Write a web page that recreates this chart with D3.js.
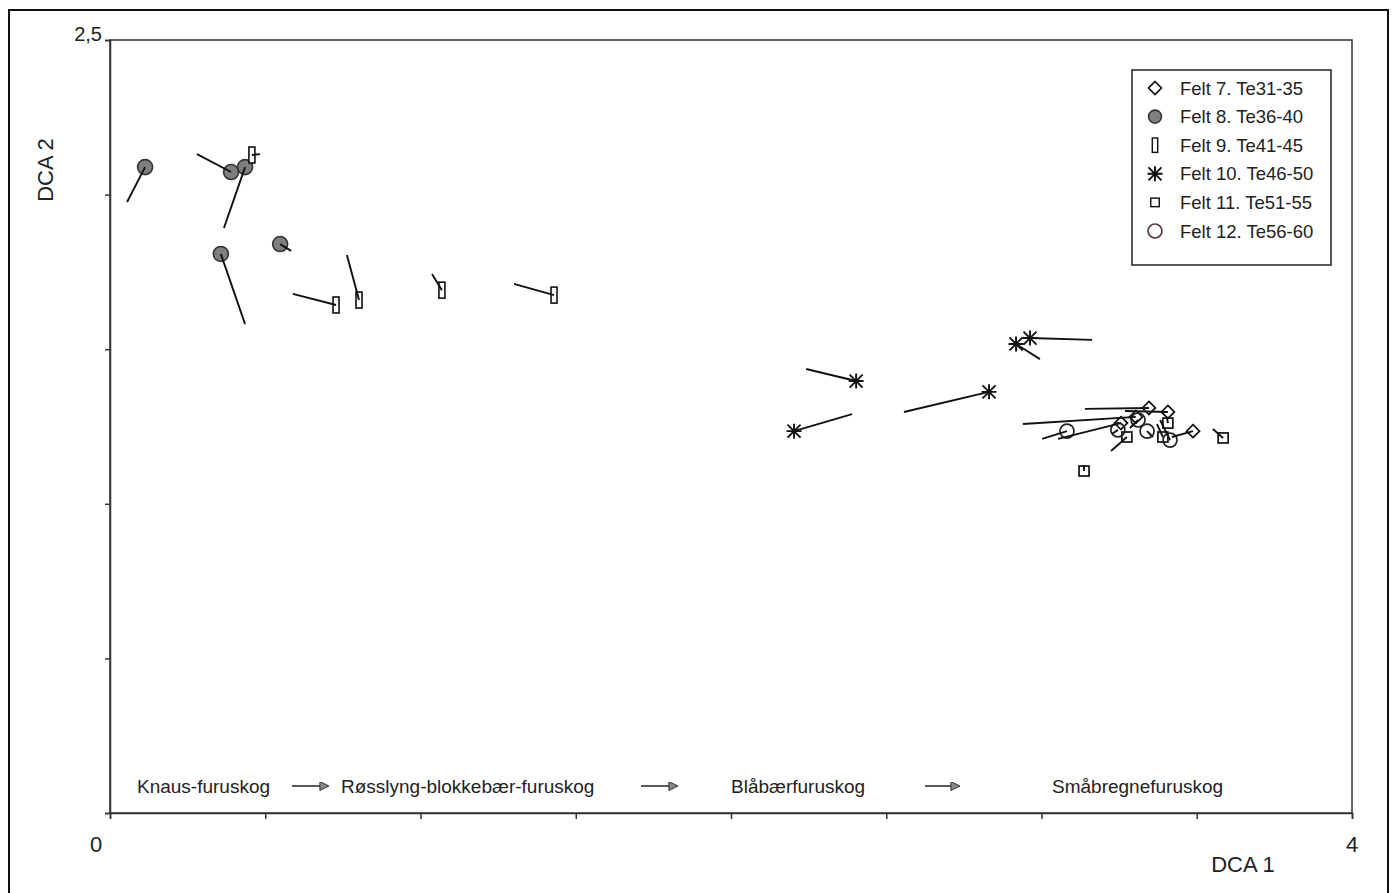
<!DOCTYPE html>
<html>
<head>
<meta charset="utf-8">
<script src="https://cdn.jsdelivr.net/npm/d3@7"></script>
<style>
body { margin: 0; background: #fff; }
text { font-family: "Liberation Sans", Arial, sans-serif; fill: #222; }
</style>
</head>
<body>
<div id="chart"></div>
<script>
// each row: [x, y, fromX, fromY] -- marker position and tail of its line
var felt7 = [[3.346,1.310, 3.140,1.307],[3.407,1.297, 3.269,1.300],[3.304,1.281, 2.940,1.258],[3.256,1.261, 3.053,1.210],[3.488,1.235, 3.420,1.216]];
var felt8 = [[0.113,2.089, 0.055,1.976],[0.390,2.073, 0.280,2.131],[0.435,2.089, 0.367,1.892],[0.548,1.840, 0.583,1.818],[0.357,1.808, 0.435,1.581]];
var felt9 = [[0.457,2.128, 0.483,2.131],[0.728,1.643, 0.589,1.679],[0.802,1.659, 0.763,1.805],[1.069,1.691, 1.037,1.743],[1.430,1.675, 1.301,1.711]];
var felt10 = [[2.203,1.235, 2.390,1.290],[2.403,1.397, 2.242,1.436],[2.831,1.362, 2.557,1.297],[2.918,1.517, 2.995,1.468],[2.963,1.536, 3.163,1.530]];
var felt11 = [[3.137,1.106, 3.137,1.125],[3.407,1.261, 3.404,1.281],[3.275,1.216, 3.224,1.171],[3.391,1.216, 3.372,1.258],[3.585,1.213, 3.552,1.242]];
var felt12 = [[3.082,1.235, 3.002,1.210],[3.246,1.239, 3.227,1.226],[3.311,1.271, 3.285,1.245],[3.340,1.235, 3.359,1.216],[3.414,1.206, 3.382,1.271]];

var seriesNames = ["Felt 7. Te31-35","Felt 8. Te36-40","Felt 9. Te41-45","Felt 10. Te46-50","Felt 11. Te51-55","Felt 12. Te56-60"];
var seriesData = [felt7, felt8, felt9, felt10, felt11, felt12];
var seriesShape = ["diamond","dot","bar","star","square","circle"];

var zones = ["Knaus-furuskog","Røsslyng-blokkebær-furuskog","Blåbærfuruskog","Småbregnefuruskog"];
var xTicks = [0,0.5,1,1.5,2,2.5,3,3.5,4];
var yTicks = [0,0.5,1,1.5,2,2.5];

var W = 1396, H = 893;
var margin = {top: 40, right: 44, bottom: 80, left: 110};
var width = W - margin.left - margin.right,
    height = 813 - margin.top;

var svg = d3.select("#chart").append("svg")
    .attr("width", W).attr("height", H);

// outer frame
svg.append("rect")
    .attr("x", 9).attr("y", 10).attr("width", 1379).attr("height", 900)
    .attr("fill", "none").attr("stroke", "#111").attr("stroke-width", 2);

var g = svg.append("g")
    .attr("transform", "translate(" + margin.left + "," + margin.top + ")");

var x = d3.scaleLinear().domain([0, 4]).range([0, width]);
var y = d3.scaleLinear().domain([0, 2.5]).range([height, 0]);

// plot area border
g.append("rect")
    .attr("width", width).attr("height", height)
    .attr("fill", "none").attr("stroke", "#333").attr("stroke-width", 1.5);

var xAxis = g.append("g")
    .attr("transform", "translate(0," + height + ")")
    .call(d3.axisBottom(x).tickValues(xTicks).tickSize(6).tickFormat(""));
var yAxis = g.append("g")
    .call(d3.axisLeft(y).tickValues(yTicks).tickSize(5).tickFormat(""));
[xAxis, yAxis].forEach(function(a){
    a.select(".domain").attr("stroke", "#333").attr("stroke-width", 1.5);
    a.selectAll(".tick line").attr("stroke", "#333").attr("stroke-width", 1.5);
});

// axis labels
g.append("text").attr("x", -8).attr("y", y(2.5) + 1)
    .attr("text-anchor", "end").style("font-size", "20px").text("2,5");
g.append("text").attr("x", x(0) - 14).attr("y", height + 39)
    .attr("text-anchor", "middle").style("font-size", "22px").text("0");
g.append("text").attr("x", x(4)).attr("y", height + 39)
    .attr("text-anchor", "middle").style("font-size", "22px").text("4");
g.append("text").attr("x", x(4) - 109).attr("y", height + 59)
    .attr("text-anchor", "middle").style("font-size", "22px").text("DCA 1");
svg.append("text")
    .attr("transform", "translate(53,170) rotate(-90)")
    .attr("text-anchor", "middle").style("font-size", "22px").text("DCA 2");

// marker symbols
function drawMarker(sel, shape) {
    if (shape === "diamond") {
        sel.append("path").attr("d", "M0,-6.5L6.5,0L0,6.5L-6.5,0Z")
            .attr("fill", "#fff").attr("stroke", "#111").attr("stroke-width", 1.7);
    } else if (shape === "dot") {
        sel.append("circle").attr("r", 7.5)
            .attr("fill", "#7f7f7f").attr("stroke", "#333").attr("stroke-width", 1.6);
    } else if (shape === "bar") {
        sel.append("rect").attr("x", -3).attr("y", -8).attr("width", 6).attr("height", 16)
            .attr("fill", "#fff").attr("stroke", "#111").attr("stroke-width", 1.6);
    } else if (shape === "star") {
        sel.append("path").attr("d", "M0,-7.5V7.5M-6.5,-6.5L6.5,6.5M-6.5,6.5L6.5,-6.5M-7.5,0H7.5")
            .attr("fill", "none").attr("stroke", "#111").attr("stroke-width", 1.9);
    } else if (shape === "square") {
        sel.append("rect").attr("x", -5).attr("y", -5).attr("width", 10).attr("height", 10)
            .attr("fill", "#fff").attr("stroke", "#111").attr("stroke-width", 1.7);
    } else if (shape === "circle") {
        sel.append("circle").attr("r", 7)
            .attr("fill", "none").attr("stroke", "#222").attr("stroke-width", 1.7);
    }
}

var plot = g.append("g");
seriesData.forEach(function(data, i){
    plot.selectAll("g.m" + i).data(data).enter().append("g")
        .attr("class", "m" + i)
        .attr("transform", function(d){ return "translate(" + x(d[0]) + "," + y(d[1]) + ")"; })
        .each(function(){ drawMarker(d3.select(this), seriesShape[i]); });
});
// movement lines drawn on top
seriesData.forEach(function(data, i){
    plot.selectAll("line.l" + i).data(data).enter().append("line")
        .attr("class", "l" + i)
        .attr("x1", function(d){ return x(d[2]); })
        .attr("y1", function(d){ return y(d[3]); })
        .attr("x2", function(d){ return x(d[0]); })
        .attr("y2", function(d){ return y(d[1]); })
        .attr("stroke", "#111").attr("stroke-width", 1.9);
});

// legend
var leg = svg.append("g").attr("transform", "translate(1132,70)");
leg.append("rect").attr("width", 199).attr("height", 195)
    .attr("fill", "#fff").attr("stroke", "#222").attr("stroke-width", 1.5);
seriesNames.forEach(function(name, i){
    var row = leg.append("g").attr("transform", "translate(0," + (18 + i * 28.6) + ")");
    var m = row.append("g").attr("transform", "translate(23,0)");
    drawMarker(m, seriesShape[i]);
    if (seriesShape[i] === "circle") m.select("circle").attr("stroke", "#5a3c4c");
    if (seriesShape[i] === "bar") m.select("rect").attr("transform", "scale(0.9)");
    if (seriesShape[i] === "dot") m.select("circle").attr("r", 6.5);
    if (seriesShape[i] === "square") m.select("rect").attr("transform", "scale(0.85)");
    row.append("text").attr("x", 48).attr("y", 6.5)
        .style("font-size", "18.5px").text(name);
});

// vegetation gradient labels along the bottom
var zoneX = [137, 341, 731, 1052];
var arrowX = [[292, 328], [641, 677], [925, 959]];
var defs = svg.append("defs");
defs.append("marker").attr("id", "head")
    .attr("viewBox", "0 0 10 10").attr("refX", 9).attr("refY", 5)
    .attr("markerWidth", 10).attr("markerHeight", 9).attr("markerUnits", "userSpaceOnUse")
    .attr("orient", "auto")
    .append("path").attr("d", "M0,0L10,5L0,10Z")
    .attr("fill", "#888").attr("stroke", "#222").attr("stroke-width", 1);
zones.forEach(function(z, i){
    svg.append("text").attr("x", zoneX[i]).attr("y", 793)
        .style("font-size", "19px").text(z);
});
arrowX.forEach(function(a){
    svg.append("line").attr("x1", a[0]).attr("x2", a[1]).attr("y1", 786).attr("y2", 786)
        .attr("stroke", "#222").attr("stroke-width", 1.5).attr("marker-end", "url(#head)");
});
</script>
</body>
</html>
